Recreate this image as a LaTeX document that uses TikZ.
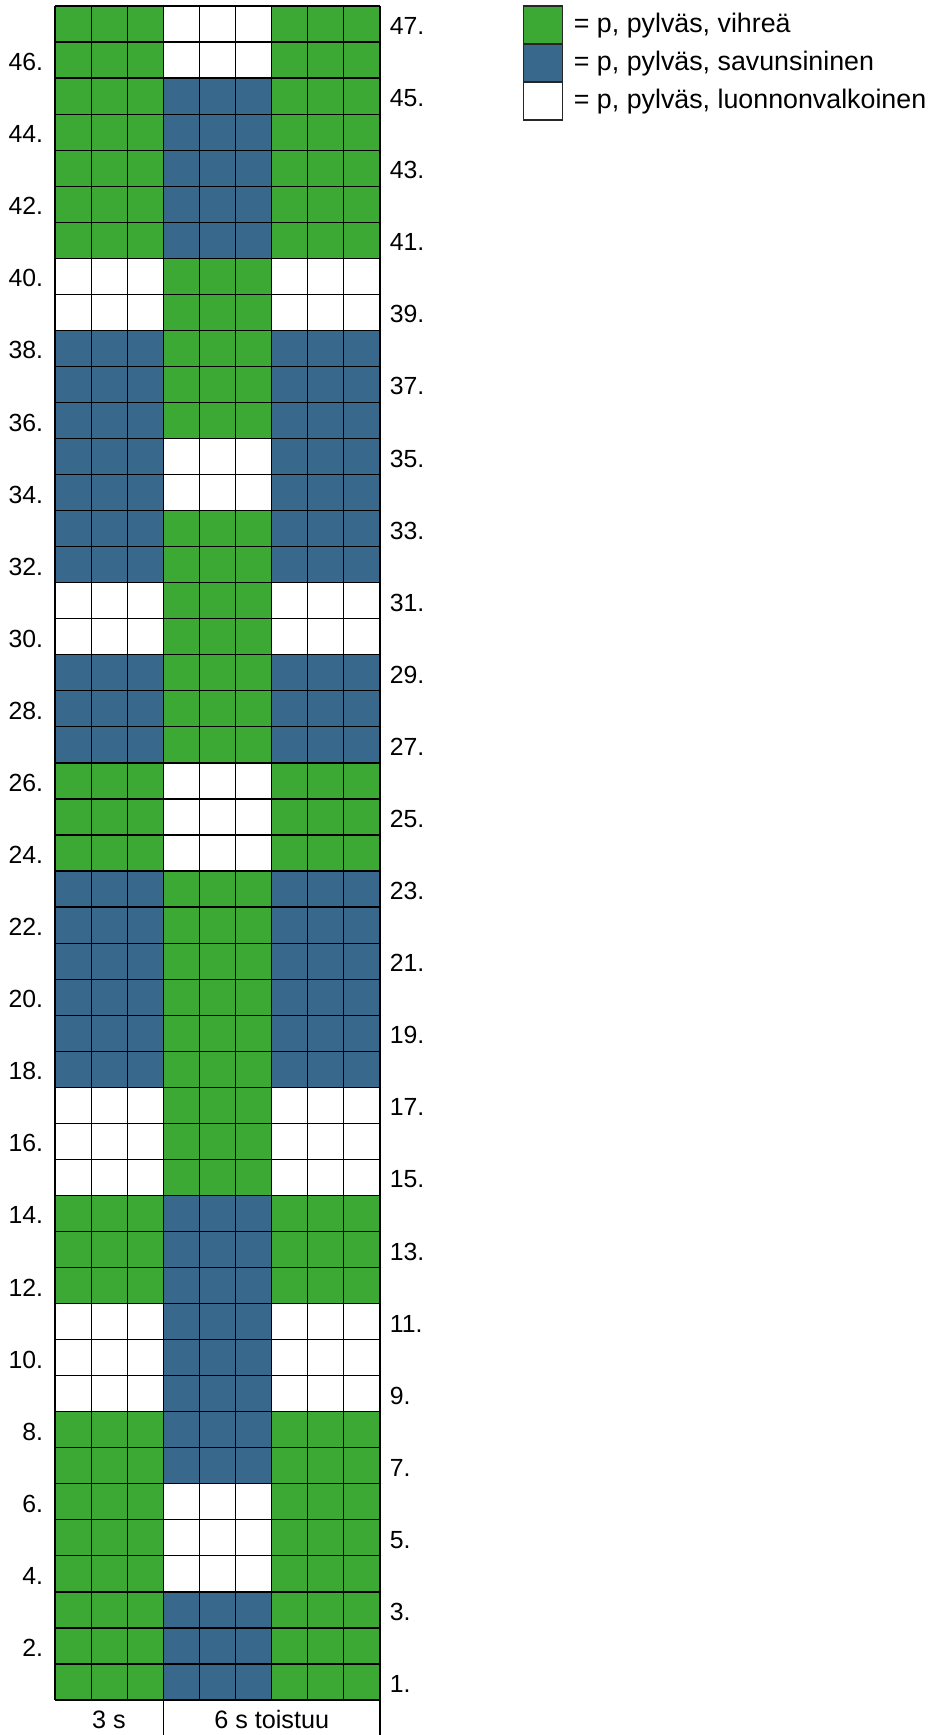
\documentclass[tikz,border=0pt]{standalone}
\usepackage{fontspec}
\setmainfont{Liberation Sans}
\definecolor{cg}{RGB}{61,169,53}
\definecolor{cb}{RGB}{56,105,140}
\definecolor{cw}{RGB}{255,255,255}
\begin{document}
\begin{tikzpicture}[x=0.5pt,y=-0.5pt,
  gridline/.style={draw=black,line width=0.6pt},
  numlabel/.style={inner sep=0pt,font=\fontsize{12.4}{14}\selectfont},
  legtext/.style={inner sep=0pt,anchor=base west,font=\fontsize{13.4}{15}\selectfont},
  legbox/.style={draw=black!85,line width=0.6pt}]
\useasboundingbox (0,0) rectangle (928,1735);
\def\W{36.111}\def\H{36.043}\def\X{55}\def\Y{6}
% cells
\foreach \r/\a/\b in {47/cg/cw,46/cg/cw,45/cg/cb,44/cg/cb,43/cg/cb,42/cg/cb,41/cg/cb,
  40/cw/cg,39/cw/cg,38/cb/cg,37/cb/cg,36/cb/cg,35/cb/cw,34/cb/cw,33/cb/cg,32/cb/cg,
  31/cw/cg,30/cw/cg,29/cb/cg,28/cb/cg,27/cb/cg,26/cg/cw,25/cg/cw,24/cg/cw,
  23/cb/cg,22/cb/cg,21/cb/cg,20/cb/cg,19/cb/cg,18/cb/cg,17/cw/cg,16/cw/cg,15/cw/cg,
  14/cg/cb,13/cg/cb,12/cg/cb,11/cw/cb,10/cw/cb,9/cw/cb,8/cg/cb,7/cg/cb,
  6/cg/cw,5/cg/cw,4/cg/cw,3/cg/cb,2/cg/cb,1/cg/cb}{
  \pgfmathsetmacro\yt{\Y+(47-\r)*\H}
  \fill[\a] (\X,\yt) rectangle ++(3*\W,\H);
  \fill[\b] (\X+3*\W,\yt) rectangle ++(3*\W,\H);
  \fill[\a] (\X+6*\W,\yt) rectangle ++(3*\W,\H);
}
% grid lines
\foreach \i in {0,...,9}{\draw[gridline] (\X+\i*\W,\Y) -- (\X+\i*\W,\Y+47*\H);}
\foreach \j in {0,...,47}{\draw[gridline] (\X,\Y+\j*\H) -- (\X+9*\W,\Y+\j*\H);}
% bottom label row
\coordinate (bl) at (\X,\Y+47*\H);
\coordinate (bm) at (\X+3*\W,\Y+47*\H);
\coordinate (br) at (\X+9*\W,\Y+47*\H);
\draw[gridline] (bm) -- ++(0,40);
\draw[gridline] (br) -- ++(0,40);
\node[inner sep=0pt,anchor=base,font=\fontsize{12.6}{14}\selectfont] (lab3) at (109,1728) {3 s};
\node[inner sep=0pt,anchor=base,font=\fontsize{12.6}{14}\selectfont] (lab6) at (271.7,1728) {6 s toistuu};
% row labels
\foreach \r in {2,4,...,46}{
  \pgfmathsetmacro\yc{\Y+(47-\r+0.5)*\H+2}
  \node[numlabel,anchor=east] (l\r) at (43.5,\yc) {\r.};
}
\foreach \r in {1,3,...,47}{
  \pgfmathsetmacro\yc{\Y+(47-\r+0.5)*\H+2}
  \node[numlabel,anchor=west] (l\r) at (389.5,\yc) {\r.};
}
% legend
\draw[legbox,fill=cg] (523.3,6) rectangle (562.3,44);
\draw[legbox,fill=cb] (523.3,44) rectangle (562.3,82);
\draw[legbox,fill=cw] (523.3,82) rectangle (562.3,120);
\node[legtext] (t1) at (573.5,32) {= p, pylväs, vihreä};
\node[legtext] (t2) at (573.5,70) {= p, pylväs, savunsininen};
\node[legtext] (t3) at (573.5,108) {= p, pylväs, luonnonvalkoinen};
\end{tikzpicture}
\end{document}
